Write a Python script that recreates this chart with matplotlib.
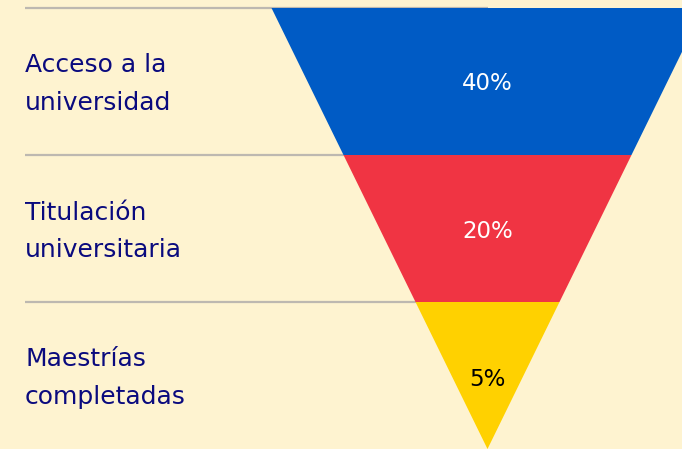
import matplotlib
matplotlib.use("Agg")
import matplotlib.pyplot as plt
from matplotlib.patches import Polygon

categories = ["Acceso a la\nuniversidad", "Titulación\nuniversitaria", "Maestrías\ncompletadas"]
values = ["40%", "20%", "5%"]
colors = ["#005BC5", "#F03443", "#FFD100"]
value_colors = ["white", "white", "black"]

W, H = 682, 449
fig = plt.figure(figsize=(W / 100, H / 100), dpi=100)
fig.patch.set_facecolor("#FEF3D0")
ax = fig.add_axes([0, 0, 1, 1])
ax.set_xlim(0, W)
ax.set_ylim(H, 0)
ax.axis("off")

top, bottom = 8, 449
cx = 487.5
half_top = 216
n = len(categories)
band = (bottom - top) / n

def half_width(y):
    return half_top * (bottom - y) / (bottom - top)

for i, (cat, val, col, vcol) in enumerate(zip(categories, values, colors, value_colors)):
    y0 = top + i * band
    y1 = y0 + band
    ax.plot([25, cx], [y0 - 0.5, y0 - 0.5], color="#BDB8B0", lw=1.6, zorder=1, solid_capstyle="butt")
    poly = Polygon([(cx - half_width(y0), y0), (cx + half_width(y0), y0),
                    (cx + half_width(y1), y1), (cx - half_width(y1), y1)],
                   closed=True, facecolor=col, edgecolor="none", zorder=2)
    ax.add_patch(poly)
    yc = (y0 + y1) / 2
    lines = cat.split("\n")
    for j, line in enumerate(lines):
        ax.text(25, yc - 9 + 37.5 * j, line, ha="left", va="baseline", fontsize=18,
                color="#0A0A7E", family="DejaVu Sans")
    ax.text(cx, yc + 9 + (1.5 if i == 2 else 0), val, ha="center", va="baseline",
            fontsize=16.5, color=vcol, family="DejaVu Sans", zorder=3)

fig.savefig("out.png", dpi=100, facecolor=fig.get_facecolor())
